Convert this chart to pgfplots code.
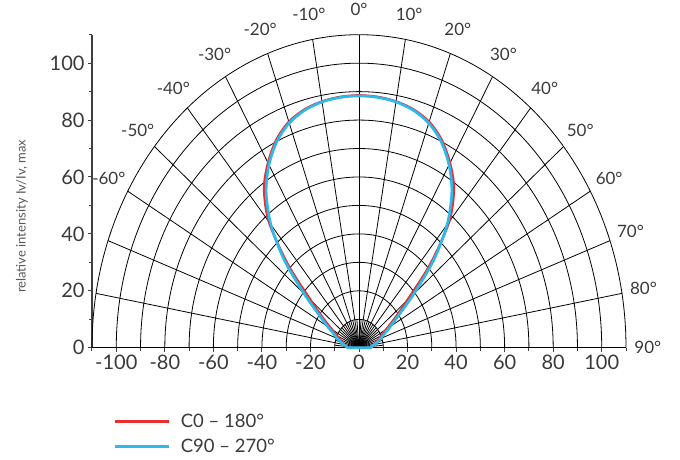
\documentclass[border=0pt]{standalone}
\usepackage{fontspec}
\setmainfont{Lato}
\usepackage{pgfplots}
\pgfplotsset{compat=1.18}
\usepackage{pgfplotstable}

\definecolor{cRed}{RGB}{232,46,46}
\definecolor{cBlue}{RGB}{44,186,236}
\definecolor{txt}{RGB}{58,58,58}

% relative intensity against angle from the vertical (degrees)
\pgfplotstableread{
theta I
-90 4.8
-85 5.2
-80 6.0
-75 7.0
-70 8.3
-65 10.0
-60 13.0
-55 18.0
-50 26.0
-45 41.5
-40 57.8
-35 68.2
-30 75.0
-25 80.6
-20 84.5
-15 86.7
-10 87.9
-5 88.5
0 88.7
5 88.5
10 87.9
15 86.7
20 84.5
25 80.6
30 75.0
35 68.2
40 57.8
45 41.5
50 26.0
55 18.0
60 13.0
65 10.0
70 8.3
75 7.0
80 6.0
85 5.2
90 4.8
180 0
-90 4.8
}\czero

\pgfplotstableread{
theta I
-90 4.8
-85 5.2
-80 6.5
-75 7.8
-70 9.5
-65 11.5
-60 15.0
-55 20.0
-50 29.5
-45 43.5
-40 56.5
-35 66.7
-30 74.2
-25 80.0
-20 84.0
-15 86.4
-10 87.7
-5 88.3
0 88.5
5 88.3
10 87.7
15 86.4
20 84.0
25 80.0
30 74.2
35 66.7
40 56.5
45 43.5
50 29.5
55 20.0
60 15.0
65 11.5
70 9.5
75 7.8
80 6.5
85 5.2
90 4.8
180 0
-90 4.8
}\cninety

\begin{document}
\begin{tikzpicture}
\path[use as bounding box] (0,0) rectangle (680pt,459pt);
\begin{axis}[
  at={(92pt,111.3pt)}, anchor=south west,
  scale only axis, width=534pt, height=313pt,
  xmin=-110, xmax=110, ymin=0, ymax=110,
  axis lines*=left,
  axis line style={draw=black!75, line width=1.2pt},
  tick align=outside,
  tick style={draw=black!75, line width=1pt},
  major tick length=4pt, minor tick length=3pt,
  xtick={-100,-80,...,100},
  xticklabels={-100,-80,-60,-40,-20,0,20,40,60,80,100},
  minor xtick={-110,-90,...,110},
  ytick={0,20,...,100},
  yticklabels={0,20,40,60,80,100},
  minor ytick={10,30,...,110},
  ticklabel style={font=\fontsize{20}{22}\selectfont, text=txt},
  ylabel={relative intensity Iv/Iv, max},
  ylabel style={at={(axis description cs:-0.131,0.42)}, anchor=center,
    font=\fontsize{13}{15}\selectfont, text=black!65},
  clip=false,
  legend style={at={(axis description cs:0.041,-0.205)}, anchor=north west,
    draw=none, fill=none, inner sep=0pt, row sep=6pt,
    font=\fontsize{18.5}{20}\selectfont, text=txt, cells={anchor=west},
    /tikz/every odd column/.append style={column sep=8pt}},
  legend image code/.code={\draw[#1] (0pt,0pt) -- (54pt,0pt);},
]
% polar grid: circles every 10, spokes every 10 degrees
\pgfplotsinvokeforeach{10,20,...,110}{
  \draw[black, line width=0.8pt] (axis cs:#1,0)
    arc[start angle=0, end angle=180, x radius=#1*2.42727pt, y radius=#1*2.84545pt];
}
\pgfplotsinvokeforeach{-90,-80,...,90}{
  \draw[black, line width=0.8pt] (axis cs:0,0) -- (axis cs:{110*sin(#1)},{110*cos(#1)});
}
\pgfplotsinvokeforeach{-85,-75,...,85}{
  \draw[black, line width=0.8pt] (axis cs:0,0) -- (axis cs:{10*sin(#1)},{10*cos(#1)});
}
\pgfplotsinvokeforeach{-60,-50,...,90}{
  \node[font=\fontsize{17}{19}\selectfont, text=txt] at (axis cs:{119*sin(#1)},{119*cos(#1)}) {#1°};
}

\addplot[cRed, line width=2.3pt, smooth]
  table[x expr=\thisrow{I}*sin(\thisrow{theta}), y expr=\thisrow{I}*cos(\thisrow{theta})] {\czero};
\addlegendentry{C0 – 180°}
\addplot[cBlue, line width=2.7pt, smooth]
  table[x expr=\thisrow{I}*sin(\thisrow{theta}), y expr=\thisrow{I}*cos(\thisrow{theta})] {\cninety};
\addlegendentry{C90 – 270°}
\end{axis}
\end{tikzpicture}
\end{document}
